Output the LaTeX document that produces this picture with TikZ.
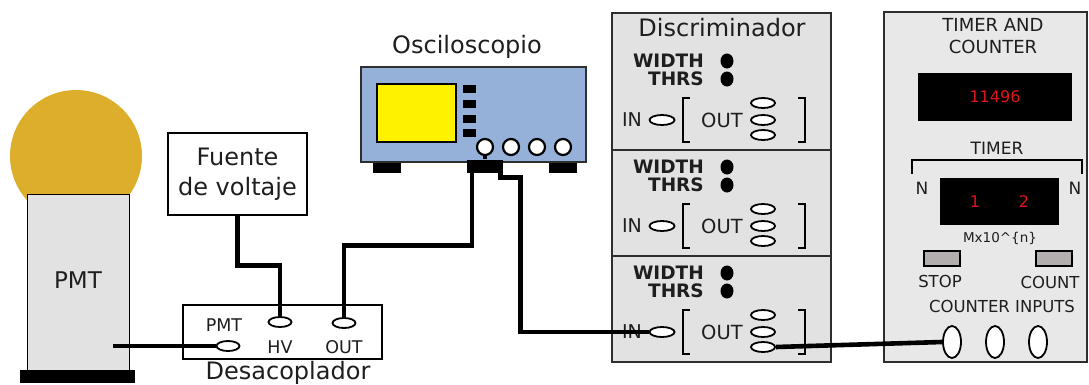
\documentclass[tikz,border=0pt]{standalone}
\usepackage{fontspec}
\setmainfont{DejaVu Sans}
\usetikzlibrary{shapes.geometric,positioning,calc}
\definecolor{bulbgold}{HTML}{DCAE2C}
\definecolor{panelgray}{HTML}{E2E2E2}
\definecolor{scopeblue}{HTML}{95B1DA}
\definecolor{ledred}{HTML}{E0141B}
\definecolor{btngray}{HTML}{B2AEAE}
\definecolor{inkgray}{HTML}{1E1E1E}
\definecolor{framegray}{HTML}{2E2E2E}

\tikzset{
  fs/.style={font=\fontsize{#1}{#1}\selectfont},
  cable/.style={line width=4.6pt},
  jack/.style={ellipse,draw,line width=1.8pt,fill=white,minimum width=23pt,minimum height=10pt,inner sep=0pt},
  knob/.style={circle,draw,line width=2.2pt,fill=white,minimum size=16pt,inner sep=0pt},
  led/.style={ellipse,fill=black,minimum width=13pt,minimum height=15pt,inner sep=0pt},
  socket/.style={ellipse,draw,line width=1.8pt,fill=white,minimum width=18pt,minimum height=32pt,inner sep=0pt},
  panel/.style={draw=framegray,line width=1.8pt,fill=panelgray},
}

\begin{document}
\begin{tikzpicture}[x=1pt,y=-1pt,every node/.style={text=inkgray,inner sep=0pt}]
  \useasboundingbox (0,0) rectangle (1089,384);

  % photomultiplier tube
  \fill[bulbgold] (76,156) circle (66pt);
  \draw[fill=panelgray,line width=1pt] (27,194) rectangle (129,370);
  \fill (20,370) rectangle (135,383);
  \node[fs=23] (pmtlabel) at (78,280) {PMT};
  \coordinate (pmtout) at (113,346);

  % high voltage supply
  \node[draw,line width=1.4pt,minimum width=139pt,minimum height=82pt,fs=24,align=center] (fuente) at (237.5,174) {Fuente\\[6pt]de voltaje};

  % decoupler
  \node[draw,line width=1.4pt,minimum width=199pt,minimum height=54pt] (desac) at (282.5,332) {};
  \node[fs=24] (desaclabel) at (288,373) {Desacoplador};
  \node[fs=17.5] (dpmtlabel) at (224,325) {PMT};
  \node[fs=17.5] (dhvlabel) at (280,347) {HV};
  \node[fs=17.5] (doutlabel) at (344,347) {OUT};
  \node[jack] (dpmt) at (228,346) {};
  \node[jack] (dhv) at (280,322) {};
  \node[jack] (dout) at (344,323) {};

  % oscilloscope
  \node[fs=24] (osclabel) at (467,47) {Osciloscopio};
  \fill (373,160) rectangle (401,173);
  \fill (549,160) rectangle (577,173);
  \draw[fill=scopeblue,draw=framegray,line width=1.6pt] (361,67) rectangle (586,162);
  \draw[fill=yellow,line width=2pt] (377,84) rectangle (456,142);
  \foreach \yk in {89,104,119,133}
    \fill (463,\yk-4) rectangle (476,\yk+4);
  \foreach \xk [count=\i] in {485,511,537,563}
    \node[knob] (knob\i) at (\xk,147) {};
  \node[fill=black,minimum width=36pt,minimum height=13pt] (plug) at (485,166) {};

  % discriminator, three channels
  \draw[panel] (612,13) rectangle (831,150);
  \draw[panel] (612,150) rectangle (831,256);
  \draw[panel] (612,256) rectangle (831,362);
  \node[fs=24] (disclabel) at (722,28) {Discriminador};
  \foreach \yb/\k in {44/a,150/b,256/c}{
    \node[anchor=east,font=\bfseries\fontsize{18.5}{18.5}\selectfont] (width\k) at (704,\yb+17) {WIDTH};
    \node[anchor=east,font=\bfseries\fontsize{18.5}{18.5}\selectfont] (thrs\k) at (704,\yb+35) {THRS};
    \node[led] (wled\k) at (727,\yb+17) {};
    \node[led] (tled\k) at (727,\yb+35) {};
    \node[fs=19] (inlabel\k) at (632,\yb+76) {IN};
    \node[fs=19.5] (outlabel\k) at (722,\yb+76) {OUT};
    \node[jack,minimum width=25pt] (in\k) at (662,\yb+76) {};
    \node[jack,minimum width=24pt] (out\k1) at (763,\yb+59) {};
    \node[jack,minimum width=24pt] (out\k2) at (763,\yb+76) {};
    \node[jack,minimum width=24pt] (out\k3) at (763,\yb+91) {};
    \draw[line width=2pt] (690,\yb+54) -| (683,\yb+98) -- (690,\yb+98);
    \draw[line width=2pt] (798,\yb+54) -| (805,\yb+98) -- (798,\yb+98);
  }

  % timer and counter
  \draw[panel,fill=panelgray!80!white] (884,12) rectangle (1087,362);
  \node[fs=18,align=center] (tclabel) at (993,36) {TIMER AND\\[4pt]COUNTER};
  \node[fill=black,minimum width=154pt,minimum height=48pt] (countdisp) at (995,97) {};
  \node[fs=16,text=ledred] (countval) at (995,97) {11496};
  \node[fs=17] (timerlabel) at (997,148) {TIMER};
  \draw[line width=1.8pt] (912,174) -- (912,160) -- (1082,160) -- (1082,174);
  \node[fs=17] (nleft) at (922,188) {N};
  \node[fs=17] (nright) at (1075,188) {N};
  \node[fill=black,minimum width=119pt,minimum height=47pt] (timedisp) at (999.5,201.5) {};
  \node[fs=16,text=ledred] (mval) at (975,202) {1};
  \node[fs=16,text=ledred] (nval) at (1024,202) {2};
  \node[fs=13.5] (mxlabel) at (1000,238) {Mx10\textasciicircum\{n\}};
  \node[draw,line width=1.5pt,fill=btngray,minimum width=36pt,minimum height=15pt] (stopbtn) at (942,258.5) {};
  \node[draw,line width=1.5pt,fill=btngray,minimum width=36pt,minimum height=15pt] (countbtn) at (1054,258.5) {};
  \node[fs=16.5] (stoplabel) at (940,281) {STOP};
  \node[fs=16.5] (countlabel) at (1050,282) {COUNT};
  \node[fs=16.5] (cinlabel) at (1002,306) {COUNTER INPUTS};
  \foreach \xk [count=\i] in {952,995,1038}
    \node[socket] (cin\i) at (\xk,342) {};

  % cables
  \draw[cable] (pmtout) -- (dpmt.west);
  \draw[cable] (fuente.south) -- ++(0,50) -| (dhv.north);
  \draw[cable] (knob1.south) -- (plug.north);
  \draw[cable] (plug.south west) ++(5,0) -- ++(0,73) -| (dout.north);
  \draw[cable] (plug.south east) ++(-3,-1) -- ++(0,6) -- ++(20,0) |- (inc.west);
  \draw[cable] (outc3.east) -- (cin1.west);
\end{tikzpicture}
\end{document}
